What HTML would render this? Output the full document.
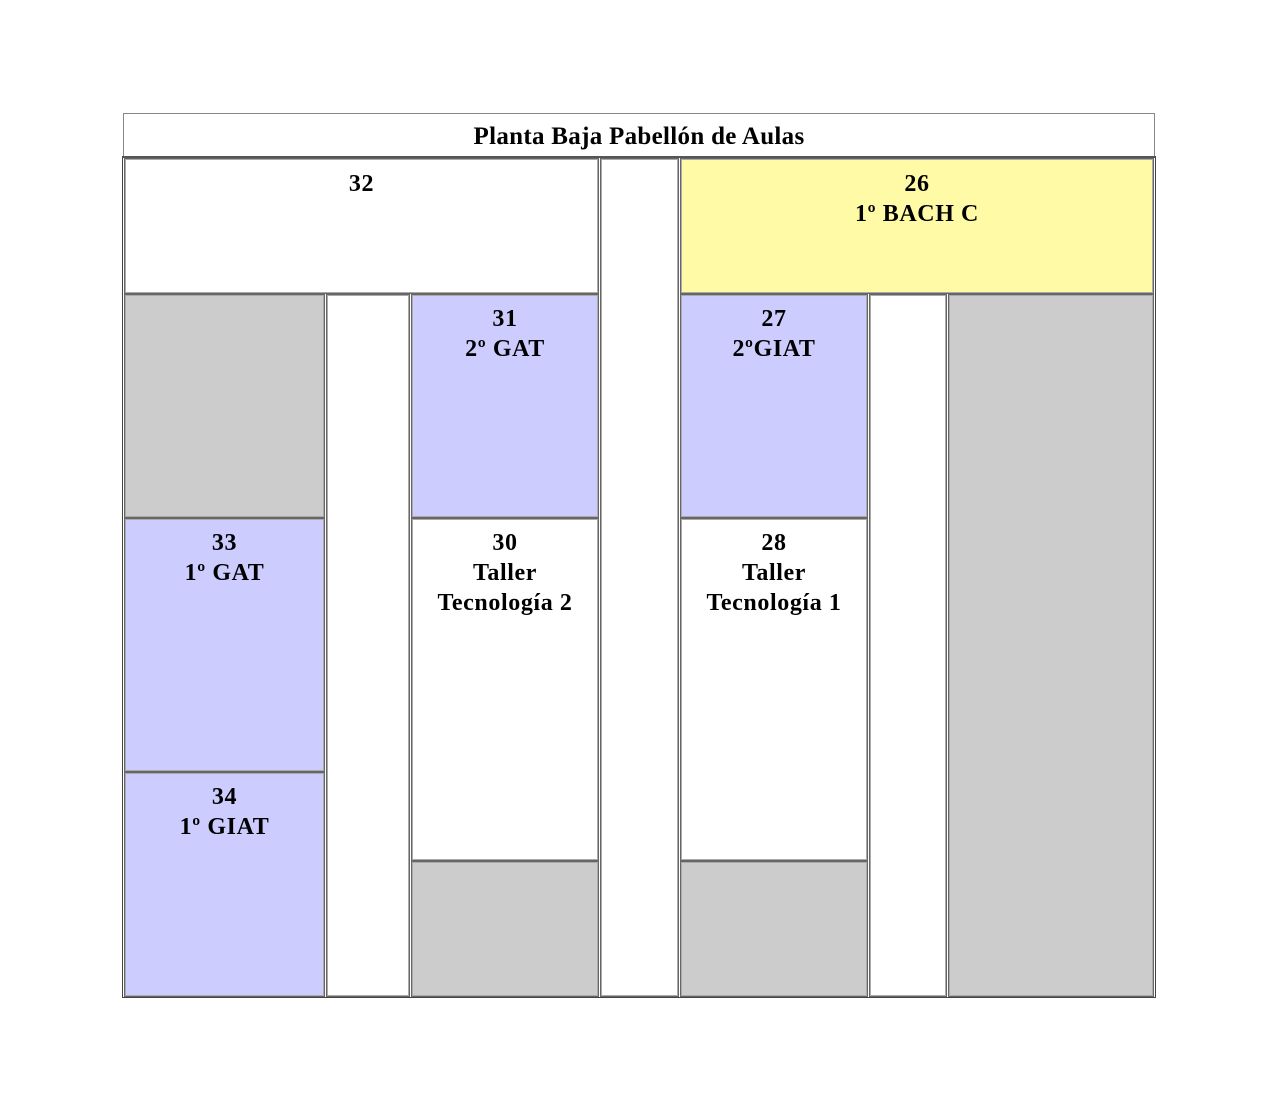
<!DOCTYPE html>
<html><head><meta charset="utf-8"><style>
body{margin:0;width:1264px;height:1102px;background:#fff;position:relative;font-family:"Liberation Serif",serif;font-weight:bold;}
.c{position:absolute;box-sizing:border-box;border:1px solid #666;box-shadow:inset 0 0 0 1px #aaa;text-align:center;font-size:24px;letter-spacing:0.6px;line-height:30px;padding-top:0;color:#000}
.w{background:#fff}.g{background:#ccc}.b{background:#ccf}.y{background:#fffaa5}
</style></head><body>
<div style="position:absolute;left:123px;top:113px;width:1032px;height:44px;box-sizing:border-box;border:1px solid #888;text-align:center;font-size:25px;letter-spacing:0.3px;line-height:46px;">Planta Baja Pabellón de Aulas</div>
<div style="position:absolute;left:122px;top:156px;width:1034px;height:842px;box-sizing:border-box;border:1px solid #444;border-top:2px solid #555"></div>
<div class="c w" style="left:124px;top:158px;width:475px;height:136px;padding-top:10px">32</div>
<div class="c w" style="left:600px;top:158px;width:79px;height:839px"></div>
<div class="c y" style="left:680px;top:158px;width:474px;height:136px;padding-top:10px">26<br>1º BACH C</div>
<div class="c g" style="left:124px;top:294px;width:201px;height:224px"></div>
<div class="c w" style="left:326px;top:294px;width:84px;height:703px"></div>
<div class="c b" style="left:411px;top:294px;width:188px;height:224px;padding-top:9px">31<br>2º GAT</div>
<div class="c b" style="left:680px;top:294px;width:188px;height:224px;padding-top:9px">27<br>2ºGIAT</div>
<div class="c w" style="left:869px;top:294px;width:78px;height:703px"></div>
<div class="c g" style="left:948px;top:294px;width:206px;height:703px"></div>
<div class="c b" style="left:124px;top:518px;width:201px;height:254px;padding-top:9px">33<br>1º GAT</div>
<div class="c w" style="left:411px;top:518px;width:188px;height:343px;padding-top:9px">30<br>Taller<br>Tecnología 2</div>
<div class="c w" style="left:680px;top:518px;width:188px;height:343px;padding-top:9px">28<br>Taller<br>Tecnología 1</div>
<div class="c b" style="left:124px;top:772px;width:201px;height:225px;padding-top:9px">34<br>1º GIAT</div>
<div class="c g" style="left:411px;top:861px;width:188px;height:136px"></div>
<div class="c g" style="left:680px;top:861px;width:188px;height:136px"></div>
</body></html>
